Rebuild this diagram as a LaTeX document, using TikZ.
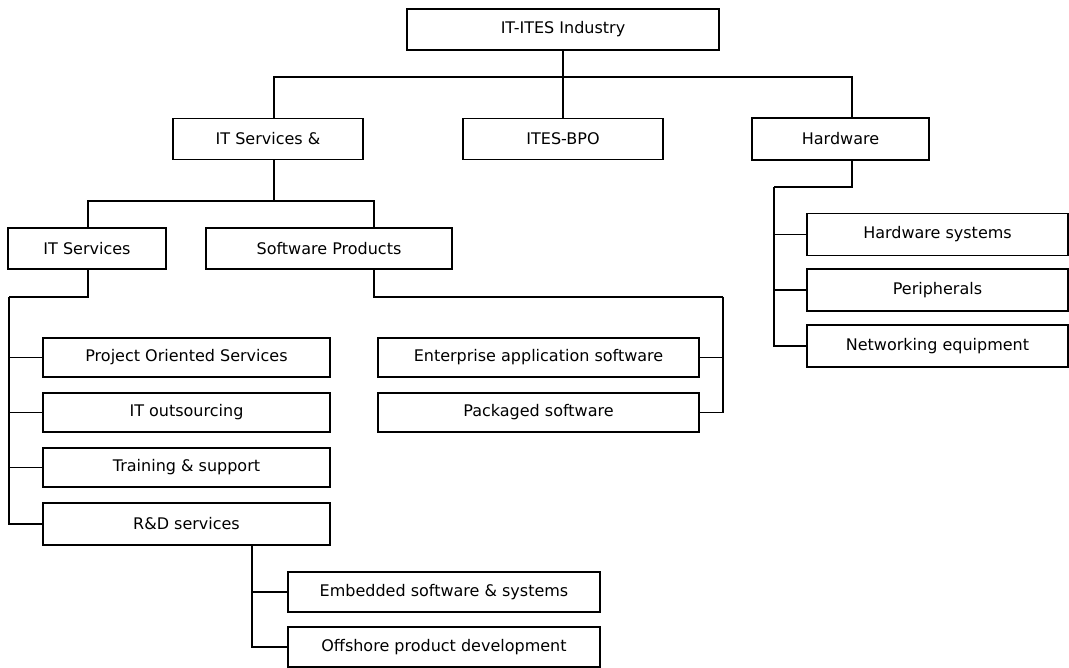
\documentclass[tikz,border=0pt]{standalone}
\usepackage{fontspec}
\setmainfont{DejaVu Sans}
\begin{document}
\begin{tikzpicture}[x=1pt,y=-1pt,
  box/.style={draw,line width=1.6pt,minimum width=#1,minimum height=38pt,inner sep=0pt,font=\fontsize{16}{19}\selectfont},
  box/.default=100pt,
  conn/.style={line width=1.6pt}]
\useasboundingbox (0,0) rectangle (1069,668);
% boxes
\node[box=312pt,minimum height=41pt] (top) at (563,29.5) {IT-ITES Industry};
\node[box=190pt,minimum height=41pt] (itsa) at (268,139) {IT Services \&};
\node[box=200pt,minimum height=41pt] (bpo) at (563,139) {ITES-BPO};
\node[box=177pt,minimum height=42pt] (hw) at (840.5,139) {Hardware};
\node[box=158pt,minimum height=41pt] (its) at (87,248.5) {IT Services};
\node[box=246pt,minimum height=41pt] (sp) at (329,248.5) {Software Products};
\node[box=287pt,minimum height=39pt] (pos) at (186.5,357.5) {Project Oriented Services};
\node[box=287pt,minimum height=39pt] (ito) at (186.5,412.5) {IT outsourcing};
\node[box=287pt,minimum height=39pt] (trn) at (186.5,467.5) {Training \& support};
\node[box=287pt,minimum height=42pt] (rnd) at (186.5,524) {R\&D services};
\node[box=312pt,minimum height=40pt] (emb) at (444,592) {Embedded software \& systems};
\node[box=312pt,minimum height=40pt] (off) at (444,647) {Offshore product development};
\node[box=321pt,minimum height=39pt] (eas) at (538.5,357.5) {Enterprise application software};
\node[box=321pt,minimum height=39pt] (pkg) at (538.5,412.5) {Packaged software};
\node[box=261pt,minimum height=42pt] (hws) at (937.5,234.5) {Hardware systems};
\node[box=261pt,minimum height=42pt] (per) at (937.5,290) {Peripherals};
\node[box=261pt,minimum height=42pt] (net) at (937.5,346) {Networking equipment};
% junction coordinates
\coordinate (j0) at (563,77);
\coordinate (j0l) at (274,77);
\coordinate (j0r) at (852,77);
\coordinate (j1a) at (274,160);
\coordinate (j1) at (274,201);
\coordinate (j1l) at (88,201);
\coordinate (j1r) at (374,201);
\coordinate (j2) at (9,297);
\coordinate (j3a) at (374,269);
\coordinate (j3) at (723,297);
\coordinate (hwb) at (852,160);
\coordinate (j4) at (774,187);
\coordinate (j5a) at (252,545);
% connectors
\draw[conn] (top.south) -- (j0);
\draw[conn] (itsa.north -| j0l) -- (j0l) -- (j0r) -- (hw.north -| j0r);
\draw[conn] (bpo.north) -- (j0);
\draw[conn] (j1a) -- (j1);
\draw[conn] (its.north -| j1l) -- (j1l) -- (j1r) -- (sp.north -| j1r);
\draw[conn] (its.south -| j1l) |- (j2);
\draw[conn] (j2) |- (pos.west);
\draw[conn] (j2) |- (ito.west);
\draw[conn] (j2) |- (trn.west);
\draw[conn] (j2) |- (rnd.west);
\draw[conn] (j3a) |- (j3);
\draw[conn] (j3) |- (eas.east);
\draw[conn] (j3) |- (pkg.east);
\draw[conn] (hwb) |- (j4);
\draw[conn] (j4) |- (hws.west);
\draw[conn] (j4) |- (per.west);
\draw[conn] (j4) |- (net.west);
\draw[conn] (j5a) |- (emb.west);
\draw[conn] (j5a) |- (off.west);
\end{tikzpicture}
\end{document}
